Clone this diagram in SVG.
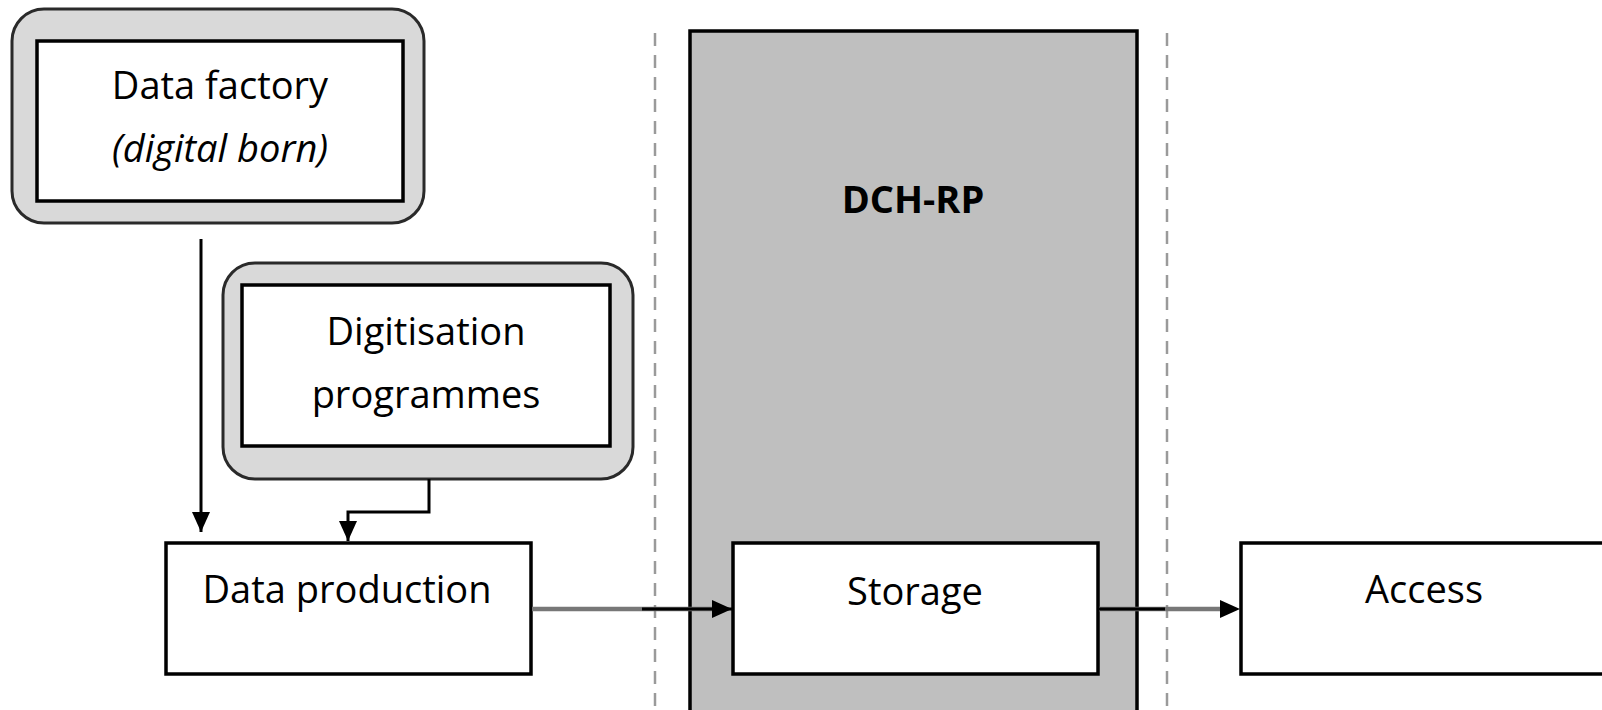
<svg xmlns="http://www.w3.org/2000/svg" width="1602" height="710" viewBox="0 0 1602 710">
<defs>
<style>
.t{font-family:"Open Sans","Noto Sans",sans-serif;font-size:38px;fill:#000;text-anchor:middle}
.outer{fill:#d9d9d9;stroke:#2a2a2a;stroke-width:3}
.box{fill:#fff;stroke:#000;stroke-width:3.5}
.sep{stroke:#9a9a9a;stroke-width:2.5;stroke-dasharray:13 9;fill:none}
.ln{stroke:#000;stroke-width:3;fill:none}
.gl{stroke:#777;stroke-width:4.5;fill:none}
</style>
<marker id="ah" markerWidth="22" markerHeight="20" refX="20" refY="10" orient="auto" markerUnits="userSpaceOnUse">
<path d="M0,1 L20,10 L0,19 Z" fill="#000"/>
</marker>
</defs>
<rect width="1602" height="710" fill="#fff"/>
<g id="separators">
<line class="sep" x1="655" y1="33" x2="655" y2="710"/>
<line class="sep" x1="1167" y1="33" x2="1167" y2="710"/>
</g>
<g id="dch-rp">
<rect x="690" y="31" width="447" height="690" fill="#bfbfbf" stroke="#000" stroke-width="3.5"/>
<text class="t" x="913" y="213" font-weight="bold">DCH-RP</text>
</g>
<g id="data-factory">
<rect class="outer" x="12" y="9" width="412" height="214" rx="32"/>
<rect class="box" x="37" y="41" width="366" height="160"/>
<text class="t" x="220" y="99">Data factory</text>
<text class="t" x="220" y="162" font-style="italic">(digital born)</text>
</g>
<g id="digitisation">
<rect class="outer" x="223" y="263" width="410" height="216" rx="32"/>
<rect class="box" x="242" y="285" width="368" height="161"/>
<text class="t" x="426" y="345">Digitisation</text>
<text class="t" x="426" y="408">programmes</text>
</g>
<g id="data-production">
<rect class="box" x="166" y="543" width="365" height="131"/>
<text class="t" x="347" y="603">Data production</text>
</g>
<g id="storage">
<rect class="box" x="733" y="543" width="365" height="131"/>
<text class="t" x="915" y="605">Storage</text>
</g>
<g id="access">
<rect class="box" x="1241" y="543" width="380" height="131"/>
<text class="t" x="1424" y="603">Access</text>
</g>
<g id="connectors">
<line class="ln" x1="201" y1="239" x2="201" y2="532" marker-end="url(#ah)"/>
<polyline class="ln" points="429,479 429,512 348,512 348,541" marker-end="url(#ah)"/>
<line class="gl" x1="532" y1="609" x2="715" y2="609"/>
<line class="ln" x1="642" y1="609" x2="732" y2="609" marker-end="url(#ah)"/>
<line class="gl" x1="1099" y1="609" x2="1222" y2="609"/>
<line class="ln" x1="1099" y1="609" x2="1165" y2="609"/>
<line x1="1200" y1="609" x2="1240" y2="609" stroke="none" marker-end="url(#ah)"/>
</g>
</svg>
